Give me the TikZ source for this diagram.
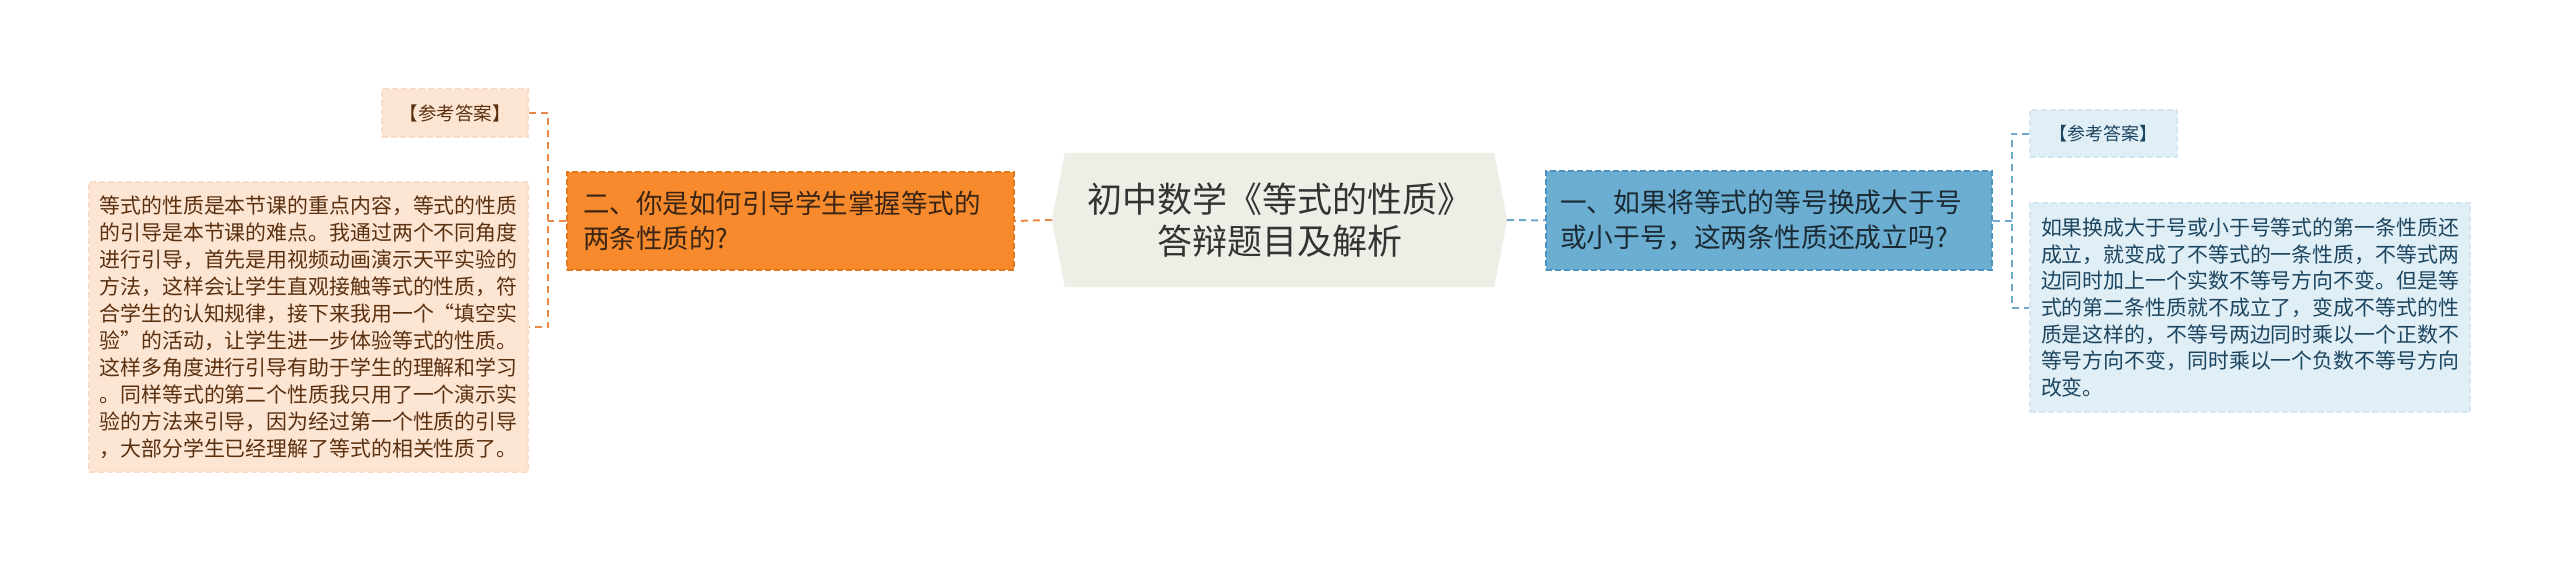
\documentclass[tikz,border=0pt]{standalone}
\usepackage{fontspec}
\setmainfont{Noto Sans CJK SC}
\usetikzlibrary{backgrounds}
\definecolor{hexfill}{HTML}{EFEEE6}
\definecolor{titletext}{HTML}{333333}
\definecolor{orangefill}{HTML}{F68A2C}
\definecolor{orangeedge}{HTML}{E2781E}
\definecolor{orangetext}{HTML}{3A2414}
\definecolor{lline}{HTML}{E8894A}
\definecolor{peachfill}{HTML}{FDE5D4}
\definecolor{peachedge}{HTML}{F9DCC8}
\definecolor{peachtext}{HTML}{5A300F}
\definecolor{bluefill}{HTML}{6BAED2}
\definecolor{blueedge}{HTML}{4E93BD}
\definecolor{bluetext}{HTML}{1B2A33}
\definecolor{rline}{HTML}{6CA9CC}
\definecolor{icefill}{HTML}{E0EEF6}
\definecolor{iceedge}{HTML}{D4E6F1}
\definecolor{icetext}{HTML}{1C4560}
\begin{document}
\begin{tikzpicture}[x=1pt,y=-1pt,
    lconn/.style={draw=lline, line width=2pt, dash pattern=on 7pt off 5pt},
    rconn/.style={draw=rline, line width=2pt, dash pattern=on 7pt off 5pt},
    qbox/.style={rectangle, line width=1.5pt, dash pattern=on 6pt off 3pt,
        align=left, inner ysep=0pt},
    orangebox/.style={qbox, fill=orangefill, draw=orangeedge, text=orangetext},
    bluebox/.style={qbox, fill=bluefill, draw=blueedge, text=bluetext},
    peachbox/.style={qbox, fill=peachfill, draw=peachedge, text=peachtext},
    icebox/.style={qbox, fill=icefill, draw=iceedge, text=icetext}]
\useasboundingbox (0,0) rectangle (2560,562);
% centre
\node[text=titletext, align=center, inner sep=0pt, minimum width=455pt,
    minimum height=134pt, font=\fontsize{35}{42}\selectfont] (title) at (1279.5,220)
    {初中数学《等式的性质》\\答辩题目及解析};
\begin{scope}[on background layer]
    \fill[hexfill] ([xshift=13pt]title.north west) -- ([xshift=-13pt]title.north east)
        -- (title.east) -- ([xshift=-13pt]title.south east)
        -- ([xshift=13pt]title.south west) -- (title.west) -- cycle;
\end{scope}
% left branch
\node[orangebox, text width=415pt, inner xsep=16pt, minimum height=98pt,
    font=\fontsize{26.5}{35}\selectfont] (orange) at (790.5,221)
    {二、你是如何引导学生掌握等式的\\两条性质的?};
\node[peachbox, minimum width=146pt, minimum height=48pt,
    font=\fontsize{18.5}{22}\selectfont] (lrefer) at (455,113) {【参考答案】};
\node[peachbox, minimum width=439pt, minimum height=290pt,
    font=\fontsize{20.9}{27}\selectfont] (ltext) at (308.5,327)
    {等式的性质是本节课的重点内容，等式的性质\\
     的引导是本节课的难点。我通过两个不同角度\\
     进行引导，首先是用视频动画演示天平实验的\\
     方法，这样会让学生直观接触等式的性质，符\\
     合学生的认知规律，接下来我用一个“填空实\\
     验”的活动，让学生进一步体验等式的性质。\\
     这样多角度进行引导有助于学生的理解和学习\\
     。同样等式的第二个性质我只用了一个演示实\\
     验的方法来引导，因为经过第一个性质的引导\\
     ，大部分学生已经理解了等式的相关性质了。};
% right branch
\node[bluebox, text width=418pt, inner xsep=14pt, minimum height=99pt,
    font=\fontsize{26.8}{35}\selectfont] (blue) at (1769,220.5)
    {一、如果将等式的等号换成大于号\\或小于号，这两条性质还成立吗?};
\node[icebox, minimum width=147pt, minimum height=47pt,
    font=\fontsize{18}{22}\selectfont] (rrefer) at (2103.5,133.5) {【参考答案】};
\node[icebox, minimum width=440pt, minimum height=209pt,
    font=\fontsize{20.9}{26.7}\selectfont] (rtext) at (2250,307.5)
    {如果换成大于号或小于号等式的第一条性质还\\
     成立，就变成了不等式的一条性质，不等式两\\
     边同时加上一个实数不等号方向不变。但是等\\
     式的第二条性质就不成立了，变成不等式的性\\
     质是这样的，不等号两边同时乘以一个正数不\\
     等号方向不变，同时乘以一个负数不等号方向\\
     改变。};
% connectors
\draw[lconn] (title.west) -- (orange.east);
\draw[lconn] (orange.west) -- ++(-18,0) coordinate (lfork);
\draw[lconn] (lrefer.east) -| (lfork) |- (ltext.east);
\draw[rconn] (title.east) -- (blue.west);
\draw[rconn] (blue.east) -- ++(19,0) coordinate (rfork);
\draw[rconn] (rrefer.west) -| (rfork) |- (rtext.west);
\end{tikzpicture}
\end{document}
